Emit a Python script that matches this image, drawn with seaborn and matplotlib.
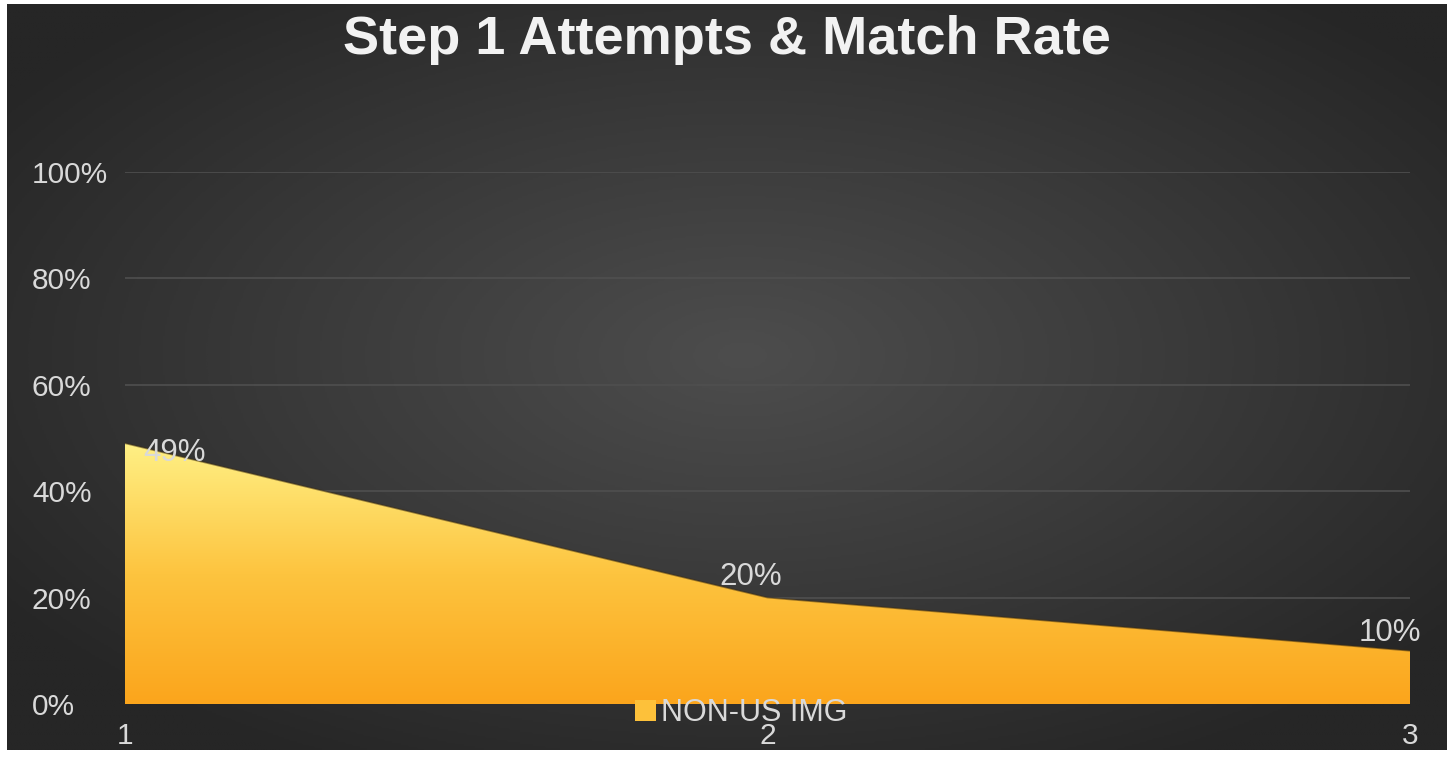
import numpy as np
import pandas as pd
import matplotlib
matplotlib.use("Agg")
import matplotlib.pyplot as plt
import seaborn as sns
from matplotlib.colors import LinearSegmentedColormap
from matplotlib.patches import Patch

# ---- data ----
attempts = [1, 2, 3]
match_rate = [0.49, 0.20, 0.10]
value_labels = ["49%", "20%", "10%"]
series_name = "NON-US IMG"
title_text = "Step 1 Attempts & Match Rate"
ytick_vals = [0, 0.2, 0.4, 0.6, 0.8, 1.0]
ytick_labels = ["0%", "20%", "40%", "60%", "80%", "100%"]

df = pd.DataFrame({"attempt": attempts, "rate": match_rate})

sns.set_theme(style="dark")
plt.rcParams["font.family"] = ["Liberation Sans", "DejaVu Sans"]

W, H = 1450, 758
fig = plt.figure(figsize=(W / 100, H / 100), dpi=100, facecolor="white")

# ---- background radial gradient ----
bg = fig.add_axes([7 / W, 8 / H, 1440 / W, 746 / H])
bg.set_axis_off()
yy, xx = np.mgrid[0:400, 0:800]
cx, cy = 0.51, 0.47
d = np.sqrt(((xx / 800 - cx) / 0.62) ** 2 + ((yy / 400 - cy) / 0.62) ** 2)
d = np.clip(d, 0, 1)
bg_cmap = LinearSegmentedColormap.from_list("bg", ["#4d4d4d", "#3a3a3a", "#262626"])
bg.imshow(d, cmap=bg_cmap, aspect="auto", extent=[0, 1, 0, 1], vmin=0, vmax=1)
bg.set_xlim(0, 1)
bg.set_ylim(0, 1)

# ---- main axes ----
ax = fig.add_axes([125 / W, (H - 704) / H, (1410 - 125) / W, (704 - 172) / H])
ax.patch.set_alpha(0)

# gridlines
for v in ytick_vals[1:]:
    ax.axhline(v, color="#4f4f4f", lw=1.2, zorder=0.5)

# area with vertical gradient
poly = ax.fill_between(df["attempt"], df["rate"], 0, color="none", lw=0, zorder=2)
grad = np.linspace(0, 1, 256).reshape(-1, 1)
area_cmap = LinearSegmentedColormap.from_list("area", ["#FBA51C", "#FDC43F", "#FFF085"])
img = ax.imshow(grad, cmap=area_cmap, aspect="auto", origin="lower",
                extent=[1, 3, 0, max(match_rate)], zorder=2)
img.set_clip_path(poly.get_paths()[0], transform=ax.transData)
ax.set_xlim(1, 3)
ax.set_ylim(0, 1.0)

sns.lineplot(data=df, x="attempt", y="rate", ax=ax, color="#3a2a10", lw=1.2,
             alpha=0.5, zorder=3)

# data labels
offsets = [(50, -10), (-17, 21), (-20, 18)]
for xv, yv, lab, (dx, dy) in zip(attempts, match_rate, value_labels, offsets):
    ax.annotate(lab, (xv, yv), xytext=(dx * 0.72, dy * 0.72), textcoords="offset points",
                ha="center", va="center", color="#d9d9d9", fontsize=22.5, zorder=5,
                annotation_clip=False)

# ticks
ax.set_yticks(ytick_vals)
ax.set_yticklabels(ytick_labels)
ax.set_xticks(attempts)
ax.set_xticklabels([str(a) for a in attempts])
ax.tick_params(axis="y", length=0, pad=67, labelsize=21.5, labelcolor="#d9d9d9")
ax.tick_params(axis="x", length=0, pad=13, labelsize=21.5, labelcolor="#d9d9d9")
for t in ax.get_yticklabels():
    t.set_horizontalalignment("left")
ax.set_xlabel("")
ax.set_ylabel("")
for s in ax.spines.values():
    s.set_visible(False)
ax.grid(False)

# legend
handle = Patch(facecolor="#FDC13A", edgecolor="none")
leg = fig.legend([handle], [series_name], loc="center",
                 bbox_to_anchor=(741 / W, 1 - 713 / H), frameon=False,
                 fontsize=22, handlelength=0.7, handleheight=0.7, handletextpad=0.15,
                 borderaxespad=0, borderpad=0)
for t in leg.get_texts():
    t.set_color("#d9d9d9")

# title
fig.text(727 / W, 1 - 40 / H, title_text, ha="center", va="center",
         fontsize=39, fontweight="bold", color="#f2f2f2")

fig.savefig("out.png", dpi=100, facecolor="white")
